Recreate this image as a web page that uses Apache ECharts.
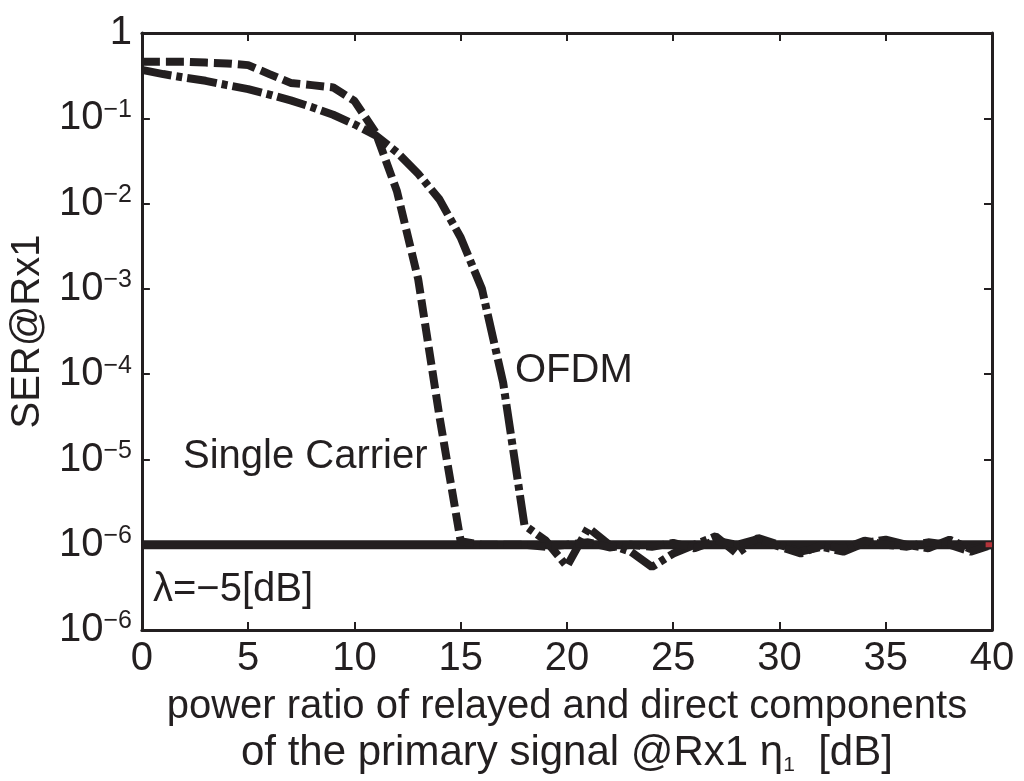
<!DOCTYPE html>
<html><head><meta charset="utf-8">
<script src="https://cdn.jsdelivr.net/npm/echarts@6/dist/echarts.min.js"></script>
<style>html,body{margin:0;padding:0;background:#fff}#c{width:1024px;height:781px}</style>
</head><body><div id="c"></div>
<script>
// ---- data ----
const xValues = [0,1,2,3,4,5,6,7,8,9,10,11,12,13,14,15,16,17,18,19,20,21,22,23,24,25,26,27,28,29,30,31,32,33,34,35,36,37,38,39,40];
const singleCarrier = [0.46,0.46,0.46,0.45,0.44,0.42,0.33,0.26,0.245,0.23,0.16,0.068,0.014,1.3e-3,3.2e-5,1.1e-6,1.0e-6,1.0e-6,1.0e-6,0.95e-6,1.0e-6,1.07e-6,0.93e-6,1.0e-6,0.95e-6,1.05e-6,0.91e-6,1.12e-6,1.0e-6,1.17e-6,0.95e-6,0.79e-6,1.0e-6,0.89e-6,1.12e-6,1.0e-6,0.95e-6,1.07e-6,1.0e-6,0.83e-6,1.0e-6];
const ofdm = [0.37,0.33,0.30,0.275,0.245,0.22,0.19,0.162,0.135,0.11,0.085,0.063,0.04,0.0224,0.0112,0.004,1.0e-3,7.9e-5,1.7e-6,1.12e-6,5.6e-7,1.58e-6,1.0e-6,0.83e-6,5.5e-7,0.79e-6,1.0e-6,1.26e-6,0.79e-6,1.2e-6,1.0e-6,0.83e-6,0.95e-6,0.83e-6,1.05e-6,1.15e-6,1.0e-6,0.91e-6,1.15e-6,0.89e-6,1.0e-6];
const floorX = [0, 40];
const floorY = [1e-6, 1e-6];
const redX = [39.7, 40];
const redY = [1e-6, 1e-6];
const xTickValues = [0,5,10,15,20,25,30,35,40];
const yTickExponents = [0,-1,-2,-3,-4,-5,-6,-7];
const yTickBase = ['1','10','10','10','10','10','10','10'];
const yTickSup  = ['','\u22121','\u22122','\u22123','\u22124','\u22125','\u22126','\u22126'];

const FONT = '"Liberation Sans", Arial, Helvetica, sans-serif';
const INK = '#231f20';
const FS = 40;

function pairs(xs, ys){ return xs.map((x,i)=>[x, ys[i]]); }

const chart = echarts.init(document.getElementById('c'), null, {renderer:'canvas'});
const axisCommon = {
  axisLine:{show:true, onZero:false, lineStyle:{color:INK, width:3}},
  axisTick:{show:true, inside:true, length:8, lineStyle:{color:INK, width:2}},
  splitLine:{show:false}
};
chart.setOption({
  animation:false,
  backgroundColor:'#fff',
  grid:{left:137, right:32, top:33, bottom:150, containLabel:false},
  xAxis:[
    Object.assign({type:'value', min:0, max:40, interval:5, position:'bottom',
      axisLabel:{fontFamily:FONT, fontSize:FS, color:INK, margin:9},
      name:'{l1|power ratio of relayed and direct components}\n{l2|of the primary signal @Rx1 \u03b7}{sub|1}{l2|  [dB]}',
      nameLocation:'middle', nameGap:45,
      nameTextStyle:{fontFamily:FONT, fontSize:FS, color:INK, lineHeight:46,
        rich:{
          l1:{fontFamily:FONT, fontSize:FS, color:INK, lineHeight:46},
          l2:{fontFamily:FONT, fontSize:42, color:INK, lineHeight:46},
          sub:{fontFamily:FONT, fontSize:21, color:INK, verticalAlign:'bottom', lineHeight:46, padding:[12,0,0,0]}
        }}
    }, axisCommon),
    Object.assign({type:'value', min:0, max:40, interval:5, position:'top', axisLabel:{show:false}}, axisCommon)
  ],
  yAxis:[
    Object.assign({type:'log', logBase:10, min:1e-7, max:1, interval:1, position:'left',
      axisLabel:{margin:10, formatter:function(v){
          const e = Math.round(Math.log10(v));
          const i = yTickExponents.indexOf(e);
          if(i<0) return '';
          return yTickSup[i] ? '{b|'+yTickBase[i]+'}{s|'+yTickSup[i]+'}' : '{b|'+yTickBase[i]+'}';
        },
        rich:{
          b:{fontFamily:FONT, fontSize:FS, color:INK, lineHeight:46},
          s:{fontFamily:FONT, fontSize:25, color:INK, verticalAlign:'bottom', lineHeight:25, padding:[0,0,19,0]}
        }},
      name:'SER@Rx1', nameLocation:'middle', nameGap:86,
      nameTextStyle:{fontFamily:FONT, fontSize:FS, color:INK}
    }, axisCommon),
    Object.assign({type:'log', logBase:10, min:1e-7, max:1, interval:1, position:'right', axisLabel:{show:false}}, axisCommon)
  ],
  graphic:[
    {type:'text', left:515, top:351, style:{text:'OFDM', font:FS+'px '+FONT, fill:INK}},
    {type:'text', left:183, top:437, style:{text:'Single Carrier', font:FS+'px '+FONT, fill:INK}},
    {type:'text', left:153, top:570, style:{text:'\u03bb=\u22125[dB]', font:FS+'px '+FONT, fill:INK}}
  ],
  series:[
    {type:'line', data:pairs(floorX, floorY), symbol:'none', lineStyle:{color:INK, width:9}, z:2},
    {type:'line', name:'OFDM', data:pairs(xValues, ofdm), symbol:'none',
      lineStyle:{color:INK, width:8, type:[30,5,6,5], cap:'butt'}, z:3},
    {type:'line', name:'Single Carrier', data:pairs(xValues, singleCarrier), symbol:'none',
      lineStyle:{color:INK, width:8, type:[18,6], cap:'butt'}, z:3},
    {type:'line', data:pairs(redX, redY), symbol:'none', lineStyle:{color:'#b5343a', width:5}, z:4}
  ]
});
</script>
</body></html>
